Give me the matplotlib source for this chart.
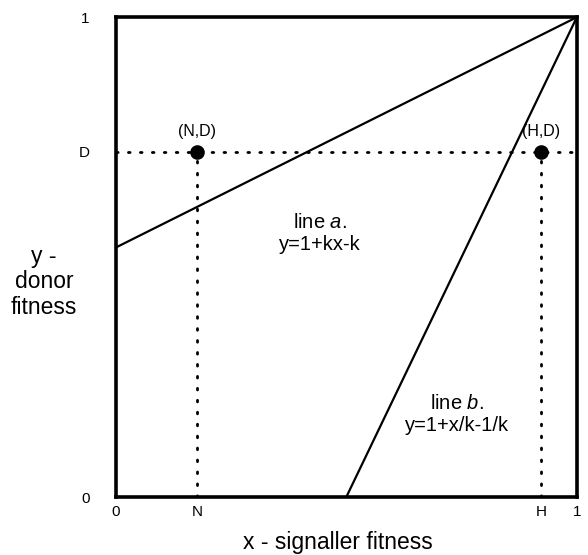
import numpy as np
import matplotlib
matplotlib.use('Agg')
import matplotlib.pyplot as plt

plt.rcParams['font.family'] = ['Liberation Sans', 'DejaVu Sans']
plt.rcParams['mathtext.fontset'] = 'custom'
plt.rcParams['mathtext.rm'] = 'Liberation Sans'
plt.rcParams['mathtext.it'] = 'Liberation Sans:italic'

# values
k_a = 0.48          # line a: y = 1 + kx - k
k_b = 0.50          # line b: y = 1 + x/k - 1/k
D = 0.72
N = 0.176
H = 0.922
x_ticks = [0, N, H, 1]
x_ticklabels = ['0', 'N', 'H', '1']
y_ticks = [0, D, 1]
y_ticklabels = ['0', 'D', '1']
points_x = [N, H]
points_y = [D, D]
point_labels = ['(N,D)', '(H,D)']

fig = plt.figure(figsize=(5.88, 5.55), dpi=100)
ax = fig.add_axes([0.197, 0.1045, 0.784, 0.8645])

# line a
xa = np.array([0, 1])
ax.plot(xa, 1 + k_a * xa - k_a, color='black', lw=1.6)
# line b
xb = np.array([1 - k_b, 1])
ax.plot(xb, 1 + xb / k_b - 1 / k_b, color='black', lw=1.6)

# dotted guides
dot = dict(color='black', lw=2, linestyle=(0, (0.6, 3.7)), dash_capstyle='round')
ax.plot([0, 1], [D, D], **dot)
for px in points_x:
    ax.plot([px, px], [0, D], **dot)

ax.plot(points_x, points_y, 'o', color='black', ms=9.5)
for px, py, lab in zip(points_x, points_y, point_labels):
    ax.text(px, py + 0.042, lab, ha='center', va='center', fontsize=11.5)

ax.text(0.443, 0.55, 'line $a$.\ny=1+kx-k', ha='center', va='center',
        fontsize=14.5, linespacing=1.2)
ax.text(0.74, 0.171, 'line $b$.\ny=1+x/k-1/k', ha='center', va='center',
        fontsize=14.5, linespacing=1.2)

ax.set_xlim(0, 1)
ax.set_ylim(0, 1)
ax.set_xticks(x_ticks)
ax.set_xticklabels(x_ticklabels)
ax.set_yticks(y_ticks)
ax.set_yticklabels(y_ticklabels)
ax.tick_params(length=0, labelsize=11)
ax.tick_params(axis='x', pad=6)
ax.tick_params(axis='y', pad=19)
for s in ax.spines.values():
    s.set_linewidth(2.6)

fig.text(0.574, 0.022, 'x - signaller fitness', ha='center', va='center',
         fontsize=16.5)
fig.text(0.075, 0.492, 'y -\ndonor\nfitness', ha='center', va='center',
         fontsize=16.5, linespacing=1.15)

fig.savefig('out.png', dpi=100)
